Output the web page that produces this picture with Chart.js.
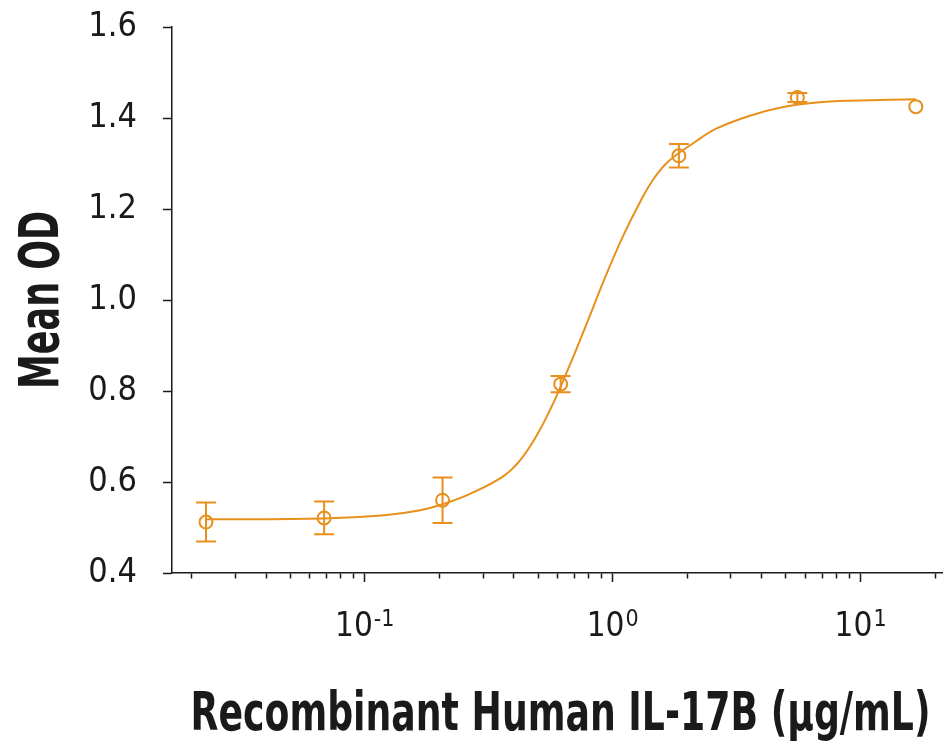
<!DOCTYPE html>
<html>
<head>
<meta charset="utf-8">
<script src="https://cdn.jsdelivr.net/npm/chart.js@4/dist/chart.umd.min.js"></script>
<style>
  html, body { margin: 0; padding: 0; background: #ffffff; overflow: hidden; }
  canvas { display: block; }
</style>
</head>
<body>
<canvas id="c" width="943" height="753" style="width:943px;height:753px"></canvas>
<script>
// ---- Data ----
const concentration = [0.0229, 0.0686, 0.206, 0.617, 1.85, 5.56, 16.7];   // µg/mL
const meanOD        = [0.512, 0.521, 0.560, 0.815, 1.317, 1.445, 1.425];
const errOD         = [0.043, 0.036, 0.050, 0.018, 0.026, 0.010, 0];

// fitted curve
const curveX = [0.0229, 0.0686, 0.12, 0.1675, 0.206, 0.266, 0.363, 0.424, 0.494, 0.577, 0.674, 0.775, 0.948, 1.105, 1.292, 1.462, 1.68, 2.12, 2.63, 3.58, 4.88, 6.65, 9.06, 16.7];
const curveY = [0.518, 0.520, 0.527, 0.538, 0.551, 0.574, 0.613, 0.648, 0.702, 0.774, 0.859, 0.940, 1.059, 1.142, 1.216, 1.266, 1.305, 1.345, 1.377, 1.405, 1.424, 1.434, 1.438, 1.441];

// axes
const xTickValues   = [0.02, 0.03, 0.04, 0.05, 0.06, 0.07, 0.08, 0.09, 0.1, 0.2, 0.3, 0.4, 0.5, 0.6, 0.7, 0.8, 0.9, 1, 2, 3, 4, 5, 6, 7, 8, 9, 10, 20];
const xMajorValues  = [0.1, 1, 10];
const xLabelBase    = '10';
const xLabelExps    = ['-1', '0', '1'];
const yTickValues   = [0.4, 0.6, 0.8, 1.0, 1.2, 1.4, 1.6];

const xTitle = 'Recombinant Human IL-17B (\u03bcg/mL)';
const yTitle = 'Mean OD';

const ORANGE = '#E8901C';
const INK = '#1a1a1a';
const FONT = "'Liberation Sans Narrow', 'DejaVu Sans Condensed', 'Roboto Condensed', sans-serif";

const errorBarPlugin = {
  id: 'errorBars',
  afterDatasetsDraw(chart) {
    const {ctx, scales: {x, y}} = chart;
    ctx.save();
    ctx.strokeStyle = ORANGE;
    ctx.lineWidth = 2;
    concentration.forEach((c, i) => {
      if (!errOD[i]) return;
      const px = x.getPixelForValue(c);
      const top = y.getPixelForValue(meanOD[i] + errOD[i]);
      const bot = y.getPixelForValue(meanOD[i] - errOD[i]);
      ctx.beginPath();
      ctx.moveTo(px, top); ctx.lineTo(px, bot);
      ctx.moveTo(px - 10, top); ctx.lineTo(px + 10, top);
      ctx.moveTo(px - 10, bot); ctx.lineTo(px + 10, bot);
      ctx.stroke();
    });
    ctx.restore();
  }
};

// log-axis labels (10 with superscript exponent) and condensed axis titles
const textPlugin = {
  id: 'axisText',
  afterDraw(chart) {
    const {ctx, scales: {x, y}} = chart;
    ctx.save();
    ctx.fillStyle = INK;
    ctx.textBaseline = 'alphabetic';
    ctx.textAlign = 'left';
    xMajorValues.forEach((v, i) => {
      const px = x.getPixelForValue(v);
      ctx.font = '33px ' + FONT;
      const bw = ctx.measureText(xLabelBase).width;
      ctx.font = '23px ' + FONT;
      const ew = ctx.measureText(xLabelExps[i]).width;
      const start = px - (bw + ew + 1) / 2;
      ctx.font = '33px ' + FONT;
      ctx.fillText(xLabelBase, start, 636);
      ctx.font = '23px ' + FONT;
      ctx.fillText(xLabelExps[i], start + bw + 1, 626);
    });
    // x title
    ctx.textAlign = 'center';
    ctx.font = 'bold 53px ' + FONT;
    ctx.fillText(xTitle, (x.left + x.right) / 2 + 3, 730, 740);
    // y title (rotated)
    ctx.translate(58, (y.top + y.bottom) / 2);
    ctx.rotate(-Math.PI / 2);
    ctx.font = 'bold 55px ' + FONT;
    ctx.fillText(yTitle, 0, 0, 178);
    ctx.restore();
  }
};

new Chart(document.getElementById('c'), {
  type: 'scatter',
  data: {
    datasets: [
      {
        label: 'fit',
        data: curveX.map((v, i) => ({x: v, y: curveY[i]})),
        showLine: true,
        borderColor: ORANGE,
        borderWidth: 2,
        pointRadius: 0,
        fill: false,
        tension: 0.4
      },
      {
        label: 'Mean OD',
        data: concentration.map((v, i) => ({x: v, y: meanOD[i]})),
        showLine: false,
        pointStyle: 'circle',
        pointRadius: 6.5,
        pointBorderWidth: 2,
        pointBackgroundColor: 'rgba(255,255,255,0)',
        pointBorderColor: ORANGE
      }
    ]
  },
  options: {
    responsive: false,
    animation: false,
    devicePixelRatio: 1,
    layout: { autoPadding: false, padding: { top: 27, right: 0, bottom: 0, left: 0 } },
    plugins: {
      legend: { display: false },
      tooltip: { enabled: false }
    },
    scales: {
      x: {
        type: 'logarithmic',
        min: 0.0167,
        max: 21.5,
        afterBuildTicks: (axis) => { axis.ticks = xTickValues.map(v => ({value: v})); },
        afterFit: (axis) => { axis.height = 180; axis.paddingLeft = 0; axis.paddingRight = 0; },
        border: { display: true, color: INK, width: 1.5 },
        grid: {
          drawOnChartArea: false,
          drawTicks: true,
          tickLength: 9,
          tickColor: INK,
          tickWidth: 1.5,
          tickBorderDash: (ctx) => (xMajorValues.includes(ctx.tick && ctx.tick.value) ? [] : [5, 60])
        },
        ticks: { display: false, autoSkip: false },
        title: { display: false }
      },
      y: {
        type: 'linear',
        min: 0.4,
        max: 1.6,
        afterBuildTicks: (axis) => { axis.ticks = yTickValues.map(v => ({value: v})); },
        afterFit: (axis) => { axis.width = 172; axis.paddingTop = 0; axis.paddingBottom = 0; },
        border: { display: true, color: INK, width: 1.5 },
        grid: {
          drawOnChartArea: false,
          drawTicks: true,
          tickLength: 9,
          tickColor: INK,
          tickWidth: 1.5
        },
        ticks: {
          color: INK,
          padding: 26,
          font: { family: FONT, size: 34 },
          callback: (v) => Number(v).toFixed(1)
        },
        title: { display: false }
      }
    }
  },
  plugins: [errorBarPlugin, textPlugin]
});
</script>
</body>
</html>
